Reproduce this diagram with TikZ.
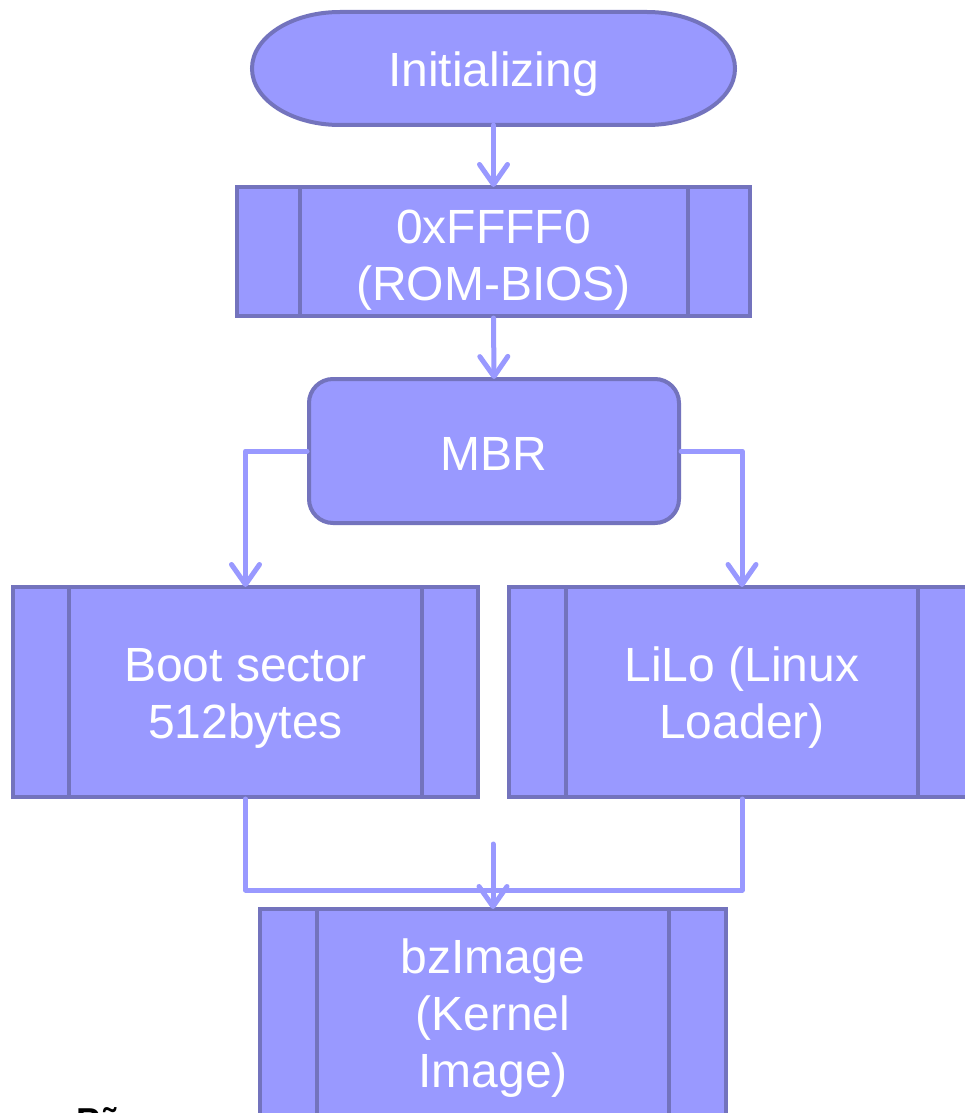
\documentclass[tikz,border=0pt]{standalone}
\usepackage{fontspec}
\setmainfont{Liberation Sans}
\usetikzlibrary{arrows.meta}
\definecolor{boxfill}{RGB}{153,153,255}
\definecolor{boxline}{RGB}{115,115,189}
\definecolor{flow}{RGB}{153,153,255}
\tikzset{
  lbl/.style={text=white, font=\fontsize{48}{57}\selectfont, align=center, inner sep=0pt},
  procbox/.style={draw=boxline, fill=boxfill, line width=4pt, rectangle},
  sidebar/.style={draw=boxline, line width=4pt},
  flowline/.style={draw=flow, line width=5pt, line cap=round, line join=round},
  flowarrow/.style={flowline, -{Straight Barb[length=20pt, width=28pt, line cap=round, line join=round]}},
}
\begin{document}
\begin{tikzpicture}[x=1pt, y=-1pt]
\useasboundingbox (0,0) rectangle (965,1113);
\fill[white] (0,0) rectangle (965,1113);

% start terminal
\draw[fill=boxfill, draw=boxline, line width=4pt]
  (340,12) -- (647,12) arc[x radius=88, y radius=56.5, start angle=-90, end angle=90]
  -- (340,125) arc[x radius=88, y radius=56.5, start angle=90, end angle=270] -- cycle;
\node[minimum width=483pt, minimum height=113pt] (init) at (493.5,68.5) {};
\node[lbl] (inittext) at (493.5,74) {Initializing};

% predefined process boxes
\node[procbox, minimum width=513pt, minimum height=129pt] (bios) at (493.5,251.5) {};
\node[lbl] (biostext) at (493.5,260) {0xFFFF0\\(ROM-BIOS)};
\draw[sidebar] ([xshift=65pt]bios.north west) -- ([xshift=65pt]bios.south west);
\draw[sidebar] ([xshift=-64pt]bios.north east) -- ([xshift=-64pt]bios.south east);

\node[procbox, rounded corners=24pt, minimum width=370pt, minimum height=144pt] (mbr) at (494,451) {};
\node[lbl] (mbrtext) at (494,454) {MBR};

\node[procbox, minimum width=465pt, minimum height=210pt] (boot) at (245.5,692) {};
\node[lbl] (boottext) at (245.5,698) {Boot sector\\512bytes};
\draw[sidebar] ([xshift=58pt]boot.north west) -- ([xshift=58pt]boot.south west);
\draw[sidebar] ([xshift=-58pt]boot.north east) -- ([xshift=-58pt]boot.south east);

\node[procbox, minimum width=466pt, minimum height=210pt] (lilo) at (742,692) {};
\node[lbl] (lilotext) at (742,698) {LiLo (Linux\\Loader)};
\draw[sidebar] ([xshift=59pt]lilo.north west) -- ([xshift=59pt]lilo.south west);
\draw[sidebar] ([xshift=-59pt]lilo.north east) -- ([xshift=-59pt]lilo.south east);

\node[procbox, minimum width=466pt, minimum height=220pt, anchor=north] (bz) at (493,907) {};
\node[lbl, anchor=north] (bztext) at (493,939) {bzImage\\(Kernel\\Image)};
\draw[sidebar] ([xshift=59pt]bz.north west) -- ([xshift=59pt]bz.south west);
\draw[sidebar] ([xshift=-59pt]bz.north east) -- ([xshift=-59pt]bz.south east);

% connectors
\draw[flowarrow] (init.south) -- ([yshift=-2pt]bios.north);
\draw[flowarrow] (bios.south) -- ([yshift=-2pt]mbr.north);
\draw[flowarrow] (mbr.west) -| ([yshift=-2pt]boot.north);
\draw[flowarrow] (mbr.east) -| ([yshift=-2pt]lilo.north);
\coordinate (join) at (245.5,890);
\draw[flowline] (boot.south) -- (join) -| (lilo.south);
\coordinate (merge) at (493,844);
\draw[flowarrow] (merge) -- ([yshift=-2pt]bz.north);

% footer text
\node[anchor=north west, inner sep=0pt, font=\fontsize{36}{40}\selectfont\bfseries] (foot) at (76,1107) {Pã};
\end{tikzpicture}
\end{document}
